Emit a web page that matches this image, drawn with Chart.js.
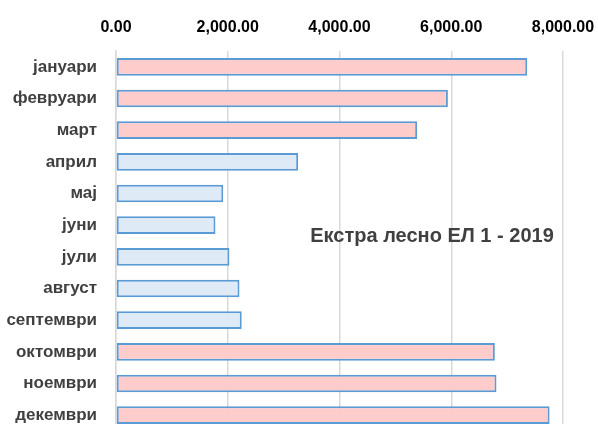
<!DOCTYPE html>
<html>
<head>
<meta charset="utf-8">
<script src="https://cdn.jsdelivr.net/npm/chart.js@4/dist/chart.umd.min.js"></script>
<style>
  html, body { margin: 0; padding: 0; background: #fff; overflow: hidden; }
</style>
</head>
<body>
<canvas id="fuelChart" width="598" height="432"></canvas>
<script>
// Data
var months = ['јануари', 'февруари', 'март', 'април', 'мај', 'јуни', 'јули',
              'август', 'септември', 'октомври', 'ноември', 'декември'];
var amounts = [7360, 5940, 5390, 3260, 1920, 1780, 2030, 2210, 2250, 6780, 6810, 7760];
var heating = [true, true, true, false, false, false, false, false, false, true, true, true];
var titleText = 'Екстра лесно ЕЛ 1 - 2019';

var fontName = '"Liberation Sans", Arial, sans-serif';

// pink for heating-season months, light blue for the rest
var fills = heating.map(function (h) { return h ? '#ffcccc' : '#deeaf6'; });

// draws the title text inside the plot area
var innerTitle = {
    id: 'innerTitle',
    afterDatasetsDraw: function (chart) {
        var ctx = chart.ctx;
        ctx.save();
        ctx.font = 'bold 20px ' + fontName;
        ctx.fillStyle = '#404040';
        ctx.textAlign = 'center';
        ctx.textBaseline = 'middle';
        ctx.fillText(titleText, 432, 236);
        ctx.restore();
    }
};

var ctx = document.getElementById('fuelChart').getContext('2d');
var chart = new Chart(ctx, {
    type: 'bar',
    data: {
        labels: months,
        datasets: [{
            data: amounts,
            backgroundColor: fills,
            borderColor: '#5b9bd5',
            borderWidth: 2,
            borderSkipped: false,
            categoryPercentage: 1,
            barPercentage: 0.56
        }]
    },
    options: {
        indexAxis: 'y',
        responsive: false,
        animation: false,
        layout: { padding: { left: 0, right: 35, top: 0, bottom: 1 } },
        plugins: {
            legend: { display: false },
            tooltip: { enabled: false }
        },
        scales: {
            x: {
                position: 'top',
                min: 0,
                max: 8000,
                ticks: {
                    stepSize: 2000,
                    color: '#000',
                    padding: 14,
                    font: { family: fontName, size: 16, weight: 'bold' },
                    callback: function (v) {
                        return v.toLocaleString('en-US', { minimumFractionDigits: 2, maximumFractionDigits: 2 });
                    }
                },
                grid: { color: '#d9d9d9', lineWidth: 1.5, drawTicks: false },
                border: { display: false },
                afterFit: function (scale) {
                    scale.height = 51;
                    scale.paddingLeft = 0;
                    scale.paddingRight = 0;
                }
            },
            y: {
                ticks: {
                    color: '#404040',
                    padding: 19,
                    font: { family: fontName, size: 17, weight: 'bold' }
                },
                grid: { display: false, drawTicks: false },
                border: { color: '#d9d9d9', width: 1.5 },
                afterFit: function (scale) {
                    scale.width = 116;
                    scale.paddingTop = 0;
                    scale.paddingBottom = 0;
                }
            }
        }
    },
    plugins: [innerTitle]
});
</script>
</body>
</html>
